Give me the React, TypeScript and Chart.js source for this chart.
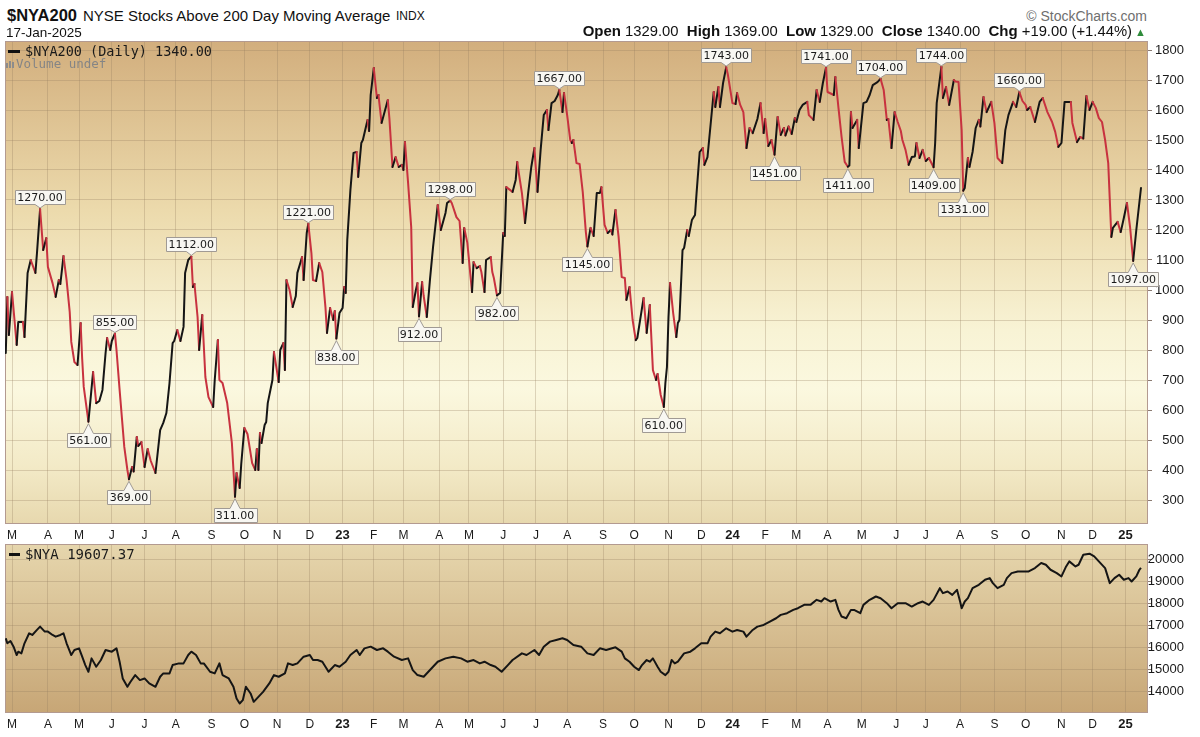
import React, { useEffect, useRef } from "react";
import { Chart, registerables } from "chart.js";

Chart.register(...registerables);

// ---------------- data ----------------
// x unit: trading-day index (0 = first session shown, late Feb 2022)
const monthTickIdx = [4, 27, 47, 68, 89, 109, 132, 153, 174, 195, 216, 236, 255, 278, 297, 319, 340, 360, 383, 403, 425, 446, 466, 487, 507, 527, 549, 571, 590, 612, 634, 654, 677, 697, 718];
const monthLabels = ["M", "A", "M", "J", "J", "A", "S", "O", "N", "D", "23", "F", "M", "A", "M", "J", "J", "A", "S", "O", "N", "D", "24", "F", "M", "A", "M", "J", "J", "A", "S", "O", "N", "D", "25"];

const topYTicks = [300, 400, 500, 600, 700, 800, 900, 1000, 1100, 1200, 1300, 1400, 1500, 1600, 1700, 1800];
const bottomYTicks = [14000, 15000, 16000, 17000, 18000, 19000, 20000];

// $NYA200
const nya200Idx = [
  0, 1, 2, 4, 7, 8, 11, 12, 14, 16,
  19, 20, 22, 24, 26, 27, 30, 32, 34, 35,
  37, 39, 41, 42, 44, 46, 48, 49, 50, 52,
  53, 56, 58, 60, 62, 64, 65, 67, 68, 70,
  71, 73, 76, 78, 79, 81, 82, 84, 85, 87,
  89, 91, 93, 96, 99, 101, 103, 105, 107, 108,
  110, 112, 114, 115, 117, 119, 120, 121, 123, 124,
  126, 128, 130, 133, 134, 136, 137, 139, 142, 145,
  147, 148, 150, 151, 153, 155, 158, 160, 161, 162,
  163, 164, 166, 167, 168, 171, 172, 175, 176, 178,
  179, 180, 182, 184, 186, 187, 190, 191, 193, 194,
  196, 197, 199, 201, 203, 205, 206, 208, 210, 211,
  212, 214, 216, 217, 218, 219, 221, 223, 225, 226,
  228, 229, 232, 233, 234, 236, 238, 239, 241, 245,
  246, 248, 250, 252, 254, 255, 256, 258, 260, 261,
  263, 264, 265, 267, 268, 270, 272, 274, 277, 279,
  282, 283, 285, 286, 289, 291, 293, 294, 296, 299,
  300, 302, 304, 305, 307, 308, 311, 312, 313, 315,
  317, 319, 320, 321, 325, 327, 328, 329, 331, 333,
  335, 337, 339, 341, 343, 345, 347, 348, 350, 352,
  354, 355, 357, 358, 360, 362, 363, 364, 366, 368,
  370, 372, 373, 375, 377, 379, 381, 382, 384, 386,
  388, 389, 391, 393, 395, 397, 398, 400, 402, 404,
  405, 409, 411, 413, 415, 417, 418, 420, 422, 423,
  424, 425, 426, 428, 430, 431, 432, 434, 435, 437,
  438, 440, 442, 443, 445, 447, 448, 450, 454, 455,
  457, 458, 460, 462, 463, 466, 468, 469, 471, 473,
  475, 477, 479, 482, 484, 486, 487, 489, 491, 493,
  495, 497, 499, 500, 502, 504, 506, 507, 509, 511,
  514, 515, 518, 520, 522, 524, 526, 527, 529, 531,
  532, 534, 536, 538, 540, 541, 542, 543, 546, 547,
  550, 552, 554, 556, 559, 561, 563, 565, 566, 568,
  570, 572, 574, 575, 577, 579, 581, 583, 584, 586,
  588, 590, 592, 595, 596, 597, 600, 601, 603, 605,
  608, 609, 611, 613, 614, 615, 617, 618, 620, 622,
  624, 625, 627, 629, 632, 634, 636, 639, 641, 643,
  646, 648, 650, 652, 654, 655, 657, 660, 663, 665,
  668, 671, 673, 675, 677, 679, 683, 684, 687, 689,
  691, 693, 695, 697, 699, 701, 703, 705, 707, 709,
  710, 713, 715, 717, 719, 721, 723, 725, 728,
];
const nya200Val = [
  790, 977, 850, 993, 817, 893, 893, 843, 1057, 1100,
  1057, 1123, 1270, 1133, 1173, 1077, 1023, 977, 1033, 1020,
  1113, 1033, 927, 827, 760, 750, 890, 770, 677, 600,
  561, 727, 623, 630, 667, 790, 840, 800, 830, 855,
  800, 667, 477, 400, 369, 410, 395, 510, 480, 493,
  410, 470, 430, 390, 533, 557, 590, 690, 823, 830,
  867, 830, 877, 1057, 1100, 1112, 1010, 1020, 910, 800,
  917, 710, 643, 610, 700, 833, 700, 690, 623, 490,
  311, 390, 340, 420, 540, 520, 423, 400, 470, 400,
  523, 490, 550, 560, 623, 700, 793, 693, 800, 823,
  733, 1033, 1000, 943, 980, 1057, 1110, 1033, 1190, 1221,
  1123, 1033, 1030, 1090, 1060, 943, 857, 940, 900, 930,
  838, 923, 940, 1010, 990, 1167, 1333, 1457, 1460, 1377,
  1490, 1500, 1567, 1530, 1650, 1740, 1640, 1650, 1557, 1633,
  1573, 1410, 1443, 1410, 1417, 1400, 1493, 1357, 1210, 943,
  1000, 1023, 912, 1027, 980, 910, 1033, 1143, 1283, 1200,
  1257, 1290, 1298, 1290, 1243, 1230, 1090, 1207, 1157, 993,
  1093, 1073, 1080, 1060, 993, 1100, 1110, 1060, 1040, 982,
  990, 1190, 1180, 1343, 1327, 1367, 1427, 1390, 1323, 1223,
  1323, 1410, 1473, 1327, 1467, 1583, 1600, 1533, 1623, 1630,
  1650, 1667, 1593, 1657, 1583, 1500, 1490, 1500, 1423, 1420,
  1327, 1193, 1145, 1207, 1180, 1323, 1323, 1343, 1217, 1190,
  1200, 1185, 1267, 1177, 1043, 1040, 967, 1010, 900, 833,
  840, 973, 857, 950, 733, 700, 720, 650, 610, 690,
  743, 910, 1023, 923, 843, 890, 900, 1133, 1140, 1200,
  1180, 1233, 1250, 1323, 1460, 1473, 1417, 1443, 1660, 1610,
  1677, 1610, 1690, 1743, 1720, 1623, 1620, 1657, 1617, 1593,
  1473, 1540, 1523, 1570, 1623, 1523, 1570, 1480, 1500, 1451,
  1577, 1517, 1540, 1515, 1545, 1520, 1573, 1560, 1600, 1617,
  1627, 1583, 1567, 1667, 1627, 1690, 1741, 1660, 1655, 1650,
  1710, 1607, 1510, 1427, 1411, 1415, 1593, 1540, 1567, 1473,
  1623, 1627, 1650, 1683, 1693, 1704, 1667, 1567, 1570, 1473,
  1593, 1560, 1530, 1500, 1467, 1417, 1443, 1445, 1490, 1440,
  1467, 1430, 1440, 1409, 1490, 1623, 1744, 1640, 1677, 1617,
  1700, 1695, 1693, 1533, 1331, 1340, 1440, 1410, 1460, 1540,
  1567, 1545, 1643, 1593, 1627, 1557, 1440, 1423, 1533, 1583,
  1627, 1610, 1660, 1630, 1617, 1600, 1610, 1560, 1627, 1640,
  1593, 1560, 1527, 1477, 1490, 1627, 1627, 1557, 1493, 1510,
  1505, 1647, 1600, 1627, 1607, 1573, 1560, 1500, 1423, 1177,
  1207, 1227, 1193, 1240, 1290, 1210, 1097, 1200, 1340,
];

// $NYA
const nyaIdx = [
  0, 1, 3, 5, 7, 8, 10, 12, 15, 17,
  20, 22, 25, 27, 30, 32, 35, 37, 39, 42,
  44, 47, 49, 51, 53, 55, 58, 61, 64, 68,
  71, 73, 75, 78, 80, 83, 86, 89, 92, 96,
  99, 101, 105, 107, 111, 114, 117, 119, 122, 125,
  127, 131, 134, 137, 139, 143, 146, 148, 150, 152,
  154, 157, 159, 162, 165, 169, 172, 175, 179, 181,
  184, 187, 191, 195, 197, 200, 203, 207, 211, 214,
  218, 221, 225, 227, 230, 234, 238, 242, 245, 249,
  254, 258, 261, 264, 268, 271, 274, 277, 282, 287,
  292, 296, 300, 304, 307, 311, 314, 318, 322, 325,
  331, 334, 339, 342, 345, 349, 353, 357, 360, 364,
  369, 373, 377, 381, 385, 391, 395, 397, 400, 403,
  406, 408, 411, 413, 415, 418, 420, 423, 425, 427,
  429, 431, 435, 439, 442, 446, 450, 452, 455, 458,
  462, 466, 469, 473, 475, 479, 482, 486, 490, 494,
  497, 501, 505, 508, 512, 516, 520, 523, 525, 529,
  532, 534, 536, 539, 542, 544, 548, 550, 554, 558,
  561, 565, 568, 572, 577, 581, 585, 588, 592, 595,
  599, 601, 604, 607, 610, 612, 613, 615, 617, 620,
  624, 628, 631, 633, 636, 640, 642, 645, 649, 653,
  656, 660, 664, 667, 670, 674, 677, 680, 682, 686,
  688, 691, 695, 698, 702, 705, 708, 711, 714, 717,
  720, 722, 725, 727, 728,
];
const nyaVal = [
  16421, 16195, 16300, 16044, 15666, 15817, 15742, 16195, 16648, 16572,
  16799, 16950, 16723, 16723, 16572, 16497, 16572, 16648, 16195, 15666,
  15893, 15968, 15590, 15213, 14911, 15515, 15138, 15440, 15893, 15817,
  15968, 15364, 14609, 14232, 14458, 14760, 14534, 14609, 14383, 14232,
  14685, 14836, 14836, 15213, 15289, 15289, 15666, 15817, 15666, 15289,
  15289, 14911, 14836, 15289, 14760, 14609, 14232, 13703, 13477, 13628,
  14232, 13930, 13553, 13779, 14005, 14383, 14760, 14685, 14836, 15289,
  15213, 15289, 15591, 15666, 15440, 15440, 15364, 14911, 15213, 15138,
  15364, 15666, 15893, 15666, 15968, 16044, 15893, 15968, 15817, 15591,
  15440, 15515, 14987, 14760, 14685, 14911, 15138, 15364, 15515, 15591,
  15515, 15364, 15440, 15289, 15364, 15213, 15138, 14911, 15213, 15440,
  15742, 15666, 15893, 15666, 16044, 16270, 16346, 16421, 16346, 16119,
  16044, 15742, 15666, 15968, 15893, 16014, 15817, 15515, 15364, 15138,
  14987, 15213, 15440, 15364, 15515, 15138, 14911, 14760, 14911, 15440,
  15289, 15364, 15742, 15817, 15968, 16195, 16195, 16497, 16723, 16648,
  16874, 16723, 16799, 16723, 16497, 16799, 16950, 17025, 17176, 17327,
  17478, 17554, 17705, 17780, 17931, 17931, 18158, 18082, 18233, 18082,
  18158, 17705, 17403, 17327, 17705, 17705, 17554, 17931, 18158, 18309,
  18233, 18007, 17780, 18007, 18007, 17856, 18007, 18082, 17931, 18158,
  18686, 18460, 18535, 18384, 18611, 18082, 17780, 18082, 18233, 18686,
  18837, 19064, 19140, 18913, 18686, 18837, 19140, 19366, 19441, 19441,
  19441, 19592, 19819, 19743, 19517, 19366, 19215, 19668, 19894, 19668,
  19743, 20196, 20242, 20121, 19819, 19592, 18913, 19140, 19290, 19064,
  19140, 18988, 19215, 19517, 19607,
];

// annotated turning points of $NYA200 (trading-day index, side of the label)
const annIdx = [22, 53, 70, 79, 119, 147, 194, 212, 265, 285, 315, 355, 373, 422, 462, 493, 526, 540, 561, 595, 600, 614, 650, 723];
const annSide = ["up", "down", "up", "down", "up", "down", "up", "down", "down", "up", "down", "up", "down", "down", "up", "down", "up", "down", "up", "down", "up", "down", "up", "down"];

// ---------------- styling ----------------
const FONT = "'Liberation Sans', Arial, Helvetica, sans-serif";
const MONO = "'DejaVu Sans Mono', 'Liberation Mono', monospace";
const RED = "#c8323f";
const BLACK = "#151515";
const GRID = "rgba(150,125,95,0.30)";
const FRAME = "#b39a90";

const TOP_BG: [number, string][] = [
  [0, "#d2ae7d"],
  [0.15, "#ddc191"],
  [0.35, "#ecdaac"],
  [0.6, "#f8f3d5"],
  [0.72, "#fbf8df"],
  [0.88, "#f3eac7"],
  [1, "#e7d8ae"],
];
const BOT_BG: [number, string][] = [
  [0, "#e6d6ad"],
  [1, "#c7a676"],
];

function bgPlugin(stops: [number, string][]) {
  return {
    id: "panelBg",
    beforeDraw(chart: any) {
      const { ctx, chartArea: a } = chart;
      const g = ctx.createLinearGradient(0, a.top, 0, a.bottom);
      stops.forEach(([p, c]) => g.addColorStop(p, c));
      ctx.save();
      ctx.fillStyle = g;
      ctx.fillRect(a.left, a.top, a.right - a.left, a.bottom - a.top);
      ctx.restore();
    },
    beforeDatasetsDraw(chart: any) {
      const { ctx, chartArea: a } = chart;
      ctx.save();
      ctx.strokeStyle = FRAME;
      ctx.lineWidth = 1;
      ctx.strokeRect(Math.round(a.left) + 0.5, Math.round(a.top) + 0.5, Math.round(a.right - a.left) - 1, Math.round(a.bottom - a.top) - 1);
      ctx.restore();
    },
  };
}

const labelPlugin = {
  id: "peakLabels",
  afterDatasetsDraw(chart: any) {
    const { ctx } = chart;
    const x = chart.scales.x;
    const y = chart.scales.y;
    ctx.save();
    ctx.font = "11px 'DejaVu Sans', Verdana, sans-serif";
    ctx.textAlign = "center";
    ctx.textBaseline = "middle";
    annIdx.forEach((ix, i) => {
      const v = nya200Val[nya200Idx.indexOf(ix)];
      const px = x.getPixelForValue(ix);
      const py = y.getPixelForValue(v);
      const text = v.toFixed(2);
      const w = Math.round(ctx.measureText(text).width) + 5;
      const h = 14;
      const up = annSide[i] === "up";
      const bx = Math.round(px - w / 2) + 0.5;
      const by = up ? Math.round(py - 19) + 0.5 : Math.round(py + 11) + 0.5;
      ctx.beginPath();
      if (up) {
        const tip = py - 1;
        ctx.moveTo(bx, by);
        ctx.lineTo(bx + w, by);
        ctx.lineTo(bx + w, by + h);
        ctx.lineTo(px + 5, by + h);
        ctx.lineTo(px, tip);
        ctx.lineTo(px - 5, by + h);
        ctx.lineTo(bx, by + h);
      } else {
        const tip = py + 2;
        ctx.moveTo(bx, by);
        ctx.lineTo(px - 5, by);
        ctx.lineTo(px, tip);
        ctx.lineTo(px + 5, by);
        ctx.lineTo(bx + w, by);
        ctx.lineTo(bx + w, by + h);
        ctx.lineTo(bx, by + h);
      }
      ctx.closePath();
      ctx.fillStyle = "#f8f7f2";
      ctx.fill();
      ctx.strokeStyle = "#a09a94";
      ctx.lineWidth = 1;
      ctx.stroke();
      ctx.fillStyle = "#1a1a1a";
      ctx.fillText(text, px, by + h / 2 + 0.5);
    });
    ctx.restore();
  },
};

function xScaleOpts(height: number) {
  return {
    type: "linear",
    position: "bottom",
    min: -0.5,
    max: 732.5,
    bounds: "data",
    afterBuildTicks: (s: any) => {
      s.ticks = monthTickIdx.map((v) => ({ value: v }));
    },
    afterFit: (s: any) => {
      s.height = height;
      s.paddingLeft = 0;
      s.paddingRight = 0;
    },
    ticks: {
      autoSkip: false,
      maxRotation: 0,
      minRotation: 0,
      padding: 4,
      color: "#1a1a1a",
      callback: (_v: any, i: number) => monthLabels[i],
      font: (c: any) => {
        const yr = /\d/.test(monthLabels[c.index] ?? "");
        return { family: FONT, size: yr ? 13 : 12, weight: yr ? "bold" : "normal" };
      },
    },
    grid: { color: GRID, lineWidth: 1, drawTicks: false },
    border: { display: false },
  };
}

function yScaleOpts(min: number, max: number, ticks: number[]) {
  return {
    type: "linear",
    position: "right",
    min,
    max,
    bounds: "data",
    afterBuildTicks: (s: any) => {
      s.ticks = ticks.map((v) => ({ value: v }));
    },
    afterFit: (s: any) => {
      s.width = 36;
      s.paddingTop = 0;
      s.paddingBottom = 0;
    },
    ticks: {
      crossAlign: "far",
      padding: 3,
      color: "#1a1a1a",
      font: { family: FONT, size: 13 },
      callback: (v: any) => String(v),
    },
    grid: { color: GRID, lineWidth: 1, drawTicks: true, tickLength: 4, tickColor: "#8a7a70" },
    border: { display: false },
  };
}

function T(props: { left?: number; right?: number; baseline: number; size: number; family?: string; weight?: any; color?: string; children: any }) {
  const { left, right, baseline, size, family = FONT, weight = "normal", color = "#111", children } = props;
  const style: any = {
    position: "absolute",
    top: baseline - 0.846 * size,
    fontFamily: family,
    fontSize: size,
    lineHeight: `${size}px`,
    fontWeight: weight,
    color,
    whiteSpace: "pre",
  };
  if (left !== undefined) style.left = left;
  if (right !== undefined) style.right = right;
  return <div style={style}>{children}</div>;
}

const B = (p: { children: any }) => <span style={{ fontWeight: "bold", fontSize: 15 }}>{p.children}</span>;

export default function App() {
  const topRef = useRef<HTMLCanvasElement>(null);
  const botRef = useRef<HTMLCanvasElement>(null);

  useEffect(() => {
    Chart.defaults.font.family = FONT;
    const top = new Chart(topRef.current as HTMLCanvasElement, {
      type: "line",
      data: {
        datasets: [
          {
            data: nya200Idx.map((x, i) => ({ x, y: nya200Val[i] })),
            borderColor: BLACK,
            borderWidth: 2,
            pointRadius: 0,
            tension: 0,
            borderCapStyle: "round",
            borderJoinStyle: "round",
            segment: {
              borderColor: (c: any) => (c.p1.parsed.y < c.p0.parsed.y ? RED : BLACK),
            },
          } as any,
        ],
      },
      options: {
        animation: false,
        responsive: false,
        maintainAspectRatio: false,
        layout: { padding: { left: 5, top: 5, right: 16, bottom: 0 } },
        plugins: { legend: { display: false }, tooltip: { enabled: false } },
        scales: {
          x: xScaleOpts(20) as any,
          y: yScaleOpts(220, 1830, topYTicks) as any,
        },
      },
      plugins: [bgPlugin(TOP_BG), labelPlugin],
    });

    const bot = new Chart(botRef.current as HTMLCanvasElement, {
      type: "line",
      data: {
        datasets: [
          {
            data: nyaIdx.map((x, i) => ({ x, y: nyaVal[i] })),
            borderColor: BLACK,
            borderWidth: 2,
            pointRadius: 0,
            tension: 0,
            borderJoinStyle: "round",
          } as any,
        ],
      },
      options: {
        animation: false,
        responsive: false,
        maintainAspectRatio: false,
        layout: { padding: { left: 5, top: 4, right: 16, bottom: 0 } },
        plugins: { legend: { display: false }, tooltip: { enabled: false } },
        scales: {
          x: xScaleOpts(24) as any,
          y: yScaleOpts(13048, 20680, bottomYTicks) as any,
        },
      },
      plugins: [bgPlugin(BOT_BG)],
    });

    return () => {
      top.destroy();
      bot.destroy();
    };
  }, []);

  return (
    <div style={{ position: "absolute", left: 0, top: 0, width: 1200, height: 737, background: "#fff", overflow: "hidden" }}>
      <canvas ref={topRef} width={1200} height={508} style={{ position: "absolute", left: 0, top: 36, width: 1200, height: 508 }} />
      <canvas ref={botRef} width={1200} height={197} style={{ position: "absolute", left: 0, top: 540, width: 1200, height: 197 }} />

      {/* header */}
      <T left={7} baseline={20.5} size={16.5} weight="bold">$NYA200</T>
      <T left={83} baseline={20.5} size={15}>NYSE Stocks Above 200 Day Moving Average</T>
      <T left={396} baseline={20.5} size={12}>INDX</T>
      <T right={53} baseline={20.5} size={14} color="#6f6f6f">© StockCharts.com</T>
      <T left={6} baseline={37} size={13.5}>17-Jan-2025</T>
      <T right={68} baseline={37} size={14.8}>
        <B>Open</B> 1329.00  <B>High</B> 1369.00  <B>Low</B> 1329.00  <B>Close</B> 1340.00  <B>Chg</B> +19.00 (+1.44%)
      </T>
      <T left={1135} baseline={36} size={11} color="#2e8b3a">▲</T>

      {/* top panel legend */}
      <div style={{ position: "absolute", left: 8, top: 50, width: 12, height: 3, background: "#111" }} />
      <T left={25} baseline={56.5} size={13.5} family={MONO} color="#1a1a1a">$NYA200 (Daily) 1340.00</T>
      <div style={{ position: "absolute", left: 6, top: 63, width: 2, height: 5, background: "#8c8c8c" }} />
      <div style={{ position: "absolute", left: 9, top: 61, width: 2, height: 7, background: "#8c8c8c" }} />
      <div style={{ position: "absolute", left: 12, top: 62, width: 2, height: 6, background: "#8c8c8c" }} />
      <T left={16} baseline={68.5} size={12.5} family={MONO} color="#858585">Volume undef</T>

      {/* bottom panel legend */}
      <div style={{ position: "absolute", left: 9, top: 553, width: 11, height: 3, background: "#111" }} />
      <T left={25} baseline={558.5} size={14} family={MONO} color="#1a1a1a">$NYA 19607.37</T>
    </div>
  );
}
